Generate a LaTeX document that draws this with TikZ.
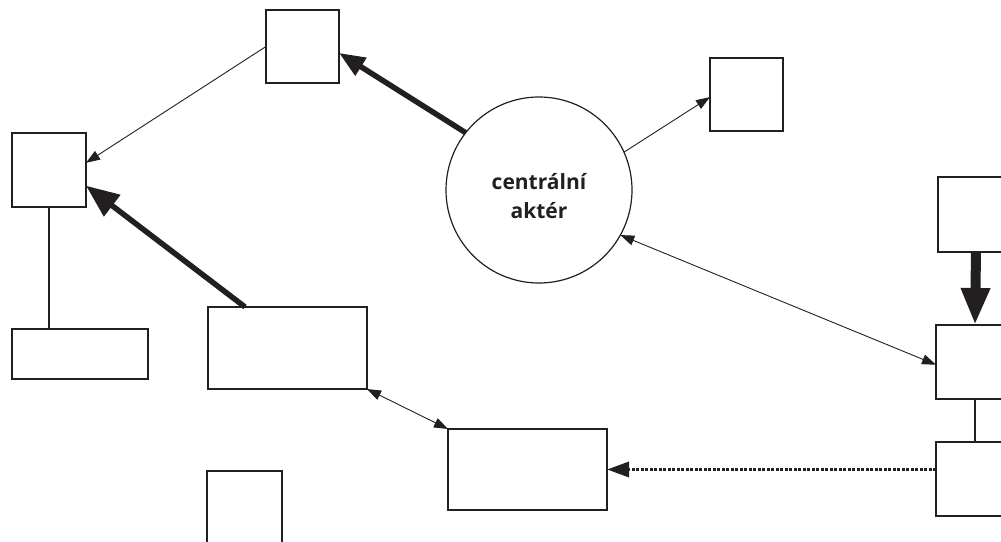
\documentclass[tikz,border=0pt]{standalone}
\usepackage{fontspec}
\setmainfont{Open Sans}
\usetikzlibrary{arrows.meta}
\definecolor{ink}{HTML}{231F20}
\tikzset{thinhead/.tip={Triangle[length=14pt,width=10pt]}}
\begin{document}
\begin{tikzpicture}[x=1pt,y=-1pt,
  box/.style={draw=ink,line width=1.4pt,inner sep=0pt,outer sep=0pt,fill=white},
  actor/.style={draw=ink,circle,line width=1.2pt,inner sep=0pt,outer sep=0pt,minimum size=186pt},
  lbl/.style={font=\fontsize{21}{29}\selectfont\bfseries,text=ink,align=center,inner sep=0pt},
  conn/.style={draw=ink,line width=0.9pt},
  heavy/.style={draw=ink,line width=5.5pt},
  link/.style={draw=ink,line width=1.4pt}
]
\useasboundingbox (0,0) rectangle (1001,541);
\node[box,minimum width=73pt,minimum height=73pt] (b1) at (302.5,46.5) {};
\node[box,minimum width=74pt,minimum height=74pt] (b2) at (49,170) {};
\node[box,minimum width=136pt,minimum height=50pt] (b3) at (80,354) {};
\node[box,minimum width=159pt,minimum height=82pt] (b4) at (287.5,348) {};
\node[box,minimum width=75pt,minimum height=74pt] (b5) at (244.5,508) {};
\node[box,minimum width=159pt,minimum height=81pt] (b6) at (527.5,469.5) {};
\node[box,minimum width=73pt,minimum height=73pt] (b7) at (746.5,94.5) {};
\node[box,minimum width=76pt,minimum height=75pt] (r1) at (976,214.5) {};
\node[box,minimum width=78pt,minimum height=74pt] (r2) at (975,362) {};
\node[box,minimum width=78pt,minimum height=74pt] (r3) at (975,479) {};
\node[actor] (c) at (539,190) {};
\node[lbl] (ct) at (539,196) {centrální\\aktér};

\draw[link] (b2.south) -- (b2.south |- b3.north);
\draw[link] (r2.south) -- (r3.north);

\draw[heavy,-{Triangle[length=26pt,width=20pt]}] (c.142) -- (b1.-10);
\draw[heavy,-{Triangle[length=33pt,width=26pt]}] (b4.136) -- (b2.-23);
\draw[draw=ink,line width=10pt,-{Triangle[length=37pt,width=27pt]}] (r1.south) -- (r2.north);
\draw[conn,-thinhead] (b1.west) -- (b2.11);
\draw[conn,-thinhead] (c.24) -- (b7.184);
\draw[conn,thinhead-thinhead] (c.-29) -- (r2.184);
\draw[conn,thinhead-thinhead] (b4.south east) -- (b6.north west);
\draw[draw=ink,line width=3.5pt,dash pattern=on 3pt off 1.5pt,-{Triangle[length=22pt,width=15pt]}]
  (r3.west |- b6.east) -- (b6.east);
\end{tikzpicture}
\end{document}
